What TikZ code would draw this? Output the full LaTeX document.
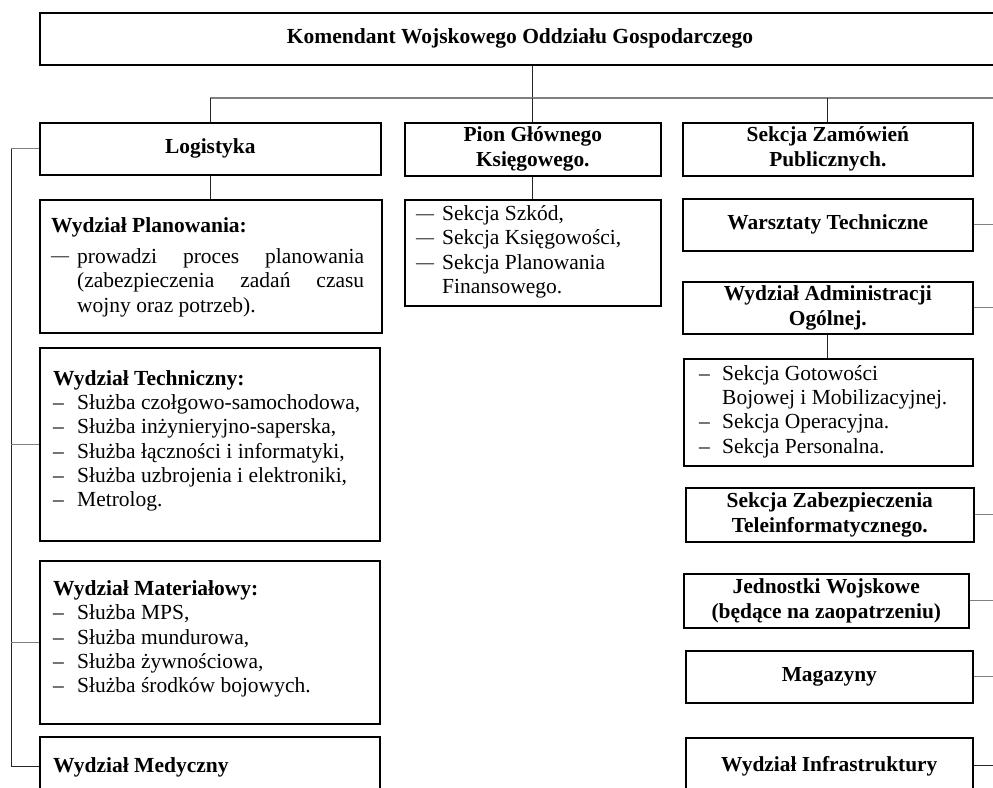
\documentclass[tikz,border=0pt]{standalone}
\usepackage{fontspec}
\setmainfont{Liberation Serif}
\begin{document}
\begin{tikzpicture}[x=1pt,y=-1pt,
  frame/.style={draw=black, line width=1.6pt, rectangle, inner sep=0pt, anchor=north west},
  head/.style={frame, font=\fontsize{21.4}{25}\selectfont\bfseries, align=center},
  body/.style={anchor=north west, inner sep=0pt, align=left, font=\fontsize{21.5}{24.3}\selectfont},
  link/.style={draw=black!85, line width=0.9pt},
  branch/.style={draw=black!50, line width=1.3pt},
]
\newcommand{\bigdash}{{\fontsize{18}{0}\selectfont\raisebox{1.2pt}{—}}}
\useasboundingbox (0,0) rectangle (993,787);
\fill[white] (0,0) rectangle (993,787);
\clip (0,0) rectangle (993,787);

% helper coordinates for the buses
\coordinate (hub) at (532,98);
\coordinate (eastedge) at (993,0);
\coordinate (spine) at (11,0);

% head of the unit
\node[frame, minimum width=986pt, minimum height=52pt] (kom) at (39,12) {};
\node[font=\fontsize{21.5}{25}\selectfont\bfseries, inner sep=0pt] (komt) at (520,38)
  {Komendant Wojskowego Oddziału Gospodarczego};

% second level
\node[head, minimum width=341pt, minimum height=52pt] (log) at (39,122) {Logistyka};
\node[head, minimum width=256pt, minimum height=53pt] (pion) at (404,122) {Pion Głównego\\Księgowego.};
\node[head, minimum width=290pt, minimum height=53pt] (zam) at (682,122) {Sekcja Zamówień\\Publicznych.};

% logistics column
\node[frame, minimum width=342pt, minimum height=133pt] (plan) at (39,199) {};
\node[body, font=\fontsize{21.5}{24.5}\selectfont] (plant) at (51,217) {%
  \textbf{Wydział Planowania:}\\[6.5pt]
  \makebox[26pt][l]{\bigdash}\makebox[287pt][s]{prowadzi proces planowania}\\
  \hspace*{26pt}\makebox[287pt][s]{(zabezpieczenia zadań czasu}\\
  \hspace*{26pt}wojny oraz potrzeb).};

\node[frame, minimum width=340pt, minimum height=193pt] (tech) at (39,347) {};
\node[body] (techt) at (53,370) {%
  \textbf{Wydział Techniczny:}\\
  \makebox[24pt][l]{–}Służba czołgowo-samochodowa,\\
  \makebox[24pt][l]{–}Służba inżynieryjno-saperska,\\
  \makebox[24pt][l]{–}Służba łączności i informatyki,\\
  \makebox[24pt][l]{–}Służba uzbrojenia i elektroniki,\\
  \makebox[24pt][l]{–}Metrolog.};

\node[frame, minimum width=340pt, minimum height=163pt] (mat) at (39,560) {};
\node[body] (matt) at (53,580.5) {%
  \textbf{Wydział Materiałowy:}\\
  \makebox[24pt][l]{–}Służba MPS,\\
  \makebox[24pt][l]{–}Służba mundurowa,\\
  \makebox[24pt][l]{–}Służba żywnościowa,\\
  \makebox[24pt][l]{–}Służba środków bojowych.};

\node[frame, minimum width=340pt, minimum height=60pt] (med) at (39,736) {};
\node[body] (medt) at (53,757.5) {\textbf{Wydział Medyczny}};

% chief accountant column
\node[frame, minimum width=256pt, minimum height=106pt] (pionsub) at (404,199) {};
\node[body] (pionsubt) at (416,205.5) {%
  \makebox[26pt][l]{\bigdash}Sekcja Szkód,\\
  \makebox[26pt][l]{\bigdash}Sekcja Księgowości,\\
  \makebox[26pt][l]{\bigdash}Sekcja Planowania\\
  \hspace*{26pt}Finansowego.};

% right column
\node[head, minimum width=290pt, minimum height=52pt] (war) at (682,198) {Warsztaty Techniczne};
\node[head, minimum width=290pt, minimum height=52pt] (adm) at (682,281) {Wydział Administracji\\Ogólnej.};
\node[frame, minimum width=289pt, minimum height=107pt] (admsub) at (683,358) {};
\node[body] (admsubt) at (699,365) {%
  \makebox[23pt][l]{–}Sekcja Gotowości\\
  \hspace*{23pt}Bojowej i Mobilizacyjnej.\\
  \makebox[23pt][l]{–}Sekcja Operacyjna.\\
  \makebox[23pt][l]{–}Sekcja Personalna.};
\node[head, minimum width=288pt, minimum height=54pt] (zab) at (685,487) {Sekcja Zabezpieczenia\\Teleinformatycznego.};
\node[head, minimum width=285pt, minimum height=54pt] (jed) at (683,573) {Jednostki Wojskowe\\(będące na zaopatrzeniu)};
\node[head, minimum width=287pt, minimum height=52pt] (mag) at (685,650) {Magazyny};
\node[head, minimum width=287pt, minimum height=56pt] (inf) at (685,737) {Wydział Infrastruktury};

% connectors from the head
\draw[link] (kom.south) -- (kom.south |- hub);
\draw[branch] (log.north |- hub) -- (hub -| eastedge);
\draw[link] (log.north |- hub) -- (log.north);
\draw[link] (pion.north |- hub) -- (pion.north);
\draw[link] (zam.north |- hub) -- (zam.north);

% vertical links to sub-units
\draw[link] (log.south) -- (log.south |- plan.north);
\draw[link] (pion.south) -- (pion.south |- pionsub.north);
\draw[link] (adm.south) -- (adm.south |- admsub.north);

% left spine of logistics
\draw[link] (log.west -| spine) -- (spine |- med.west) -- (med.west);
\draw[branch] (log.west) -- (log.west -| spine);
\draw[branch] (spine |- tech.west) -- (tech.west);
\draw[branch] (spine |- mat.west) -- (mat.west);

% stubs leaving to the right
\foreach \n in {war,adm,zab,jed,mag}
  \draw[branch] (\n.east) -- (\n.east -| eastedge);
\draw[link] (inf.east) -- (inf.east -| eastedge);
\end{tikzpicture}
\end{document}
